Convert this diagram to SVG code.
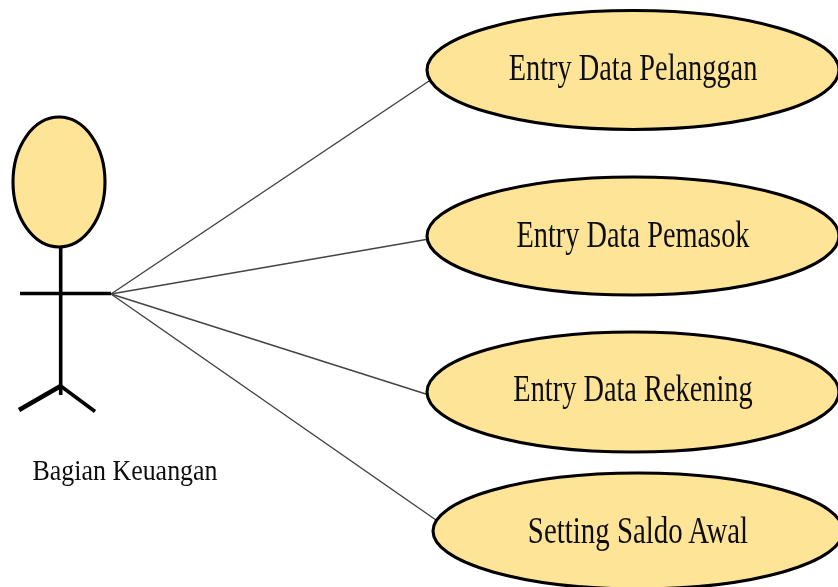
<svg xmlns="http://www.w3.org/2000/svg" width="838" height="587" viewBox="0 0 838 587">
<style>
.uc{fill:#fee496;stroke:#000;stroke-width:3.1}
.t{font-family:"Liberation Serif","Times New Roman",serif;fill:#111;text-anchor:middle}
.l{font-size:38px}
.c{stroke:#444;stroke-width:1.5;fill:none}
.a{stroke:#000;stroke-width:3.6;fill:none}
</style>
<defs><filter id="soft" filterUnits="userSpaceOnUse" x="0" y="0" width="838" height="587"><feGaussianBlur stdDeviation="0.45"/></filter></defs>
<rect width="838" height="587" fill="#fff"/>
<g filter="url(#soft)">
<g id="connectors">
<line class="c" x1="111" y1="294" x2="429" y2="81"/>
<line class="c" x1="111" y1="294" x2="429" y2="239"/>
<line class="c" x1="111" y1="294" x2="429" y2="395"/>
<line class="c" x1="111" y1="294" x2="436" y2="520"/>
</g>
<g id="actor">
<ellipse cx="59" cy="182" rx="46" ry="65" class="uc"/>
<line class="a" x1="60.7" y1="247" x2="60.7" y2="395"/>
<line class="a" x1="20" y1="293.5" x2="111" y2="293.5"/>
<line class="a" style="stroke-width:4.6" x1="60.7" y1="386" x2="19" y2="410"/>
<line class="a" x1="60.7" y1="386" x2="95" y2="411.5"/>
<text class="t" font-size="30" transform="translate(125 480) scale(.865 1)">Bagian Keuangan</text>
</g>
<g id="uc1"><ellipse class="uc" cx="633" cy="70" rx="206" ry="59.5"/><text class="t l" transform="translate(633 80) scale(.746 1)">Entry Data Pelanggan</text></g>
<g id="uc2"><ellipse class="uc" cx="633" cy="236" rx="206" ry="59"/><text class="t l" transform="translate(633 246.5) scale(.746 1)">Entry Data Pemasok</text></g>
<g id="uc3"><ellipse class="uc" cx="633" cy="392" rx="206" ry="60"/><text class="t l" transform="translate(633 401) scale(.746 1)">Entry Data Rekening</text></g>
<g id="uc4"><ellipse class="uc" cx="638" cy="531" rx="205" ry="58"/><text class="t l" transform="translate(638 542.5) scale(.76 1)">Setting Saldo Awal</text></g>
</g>
</svg>
